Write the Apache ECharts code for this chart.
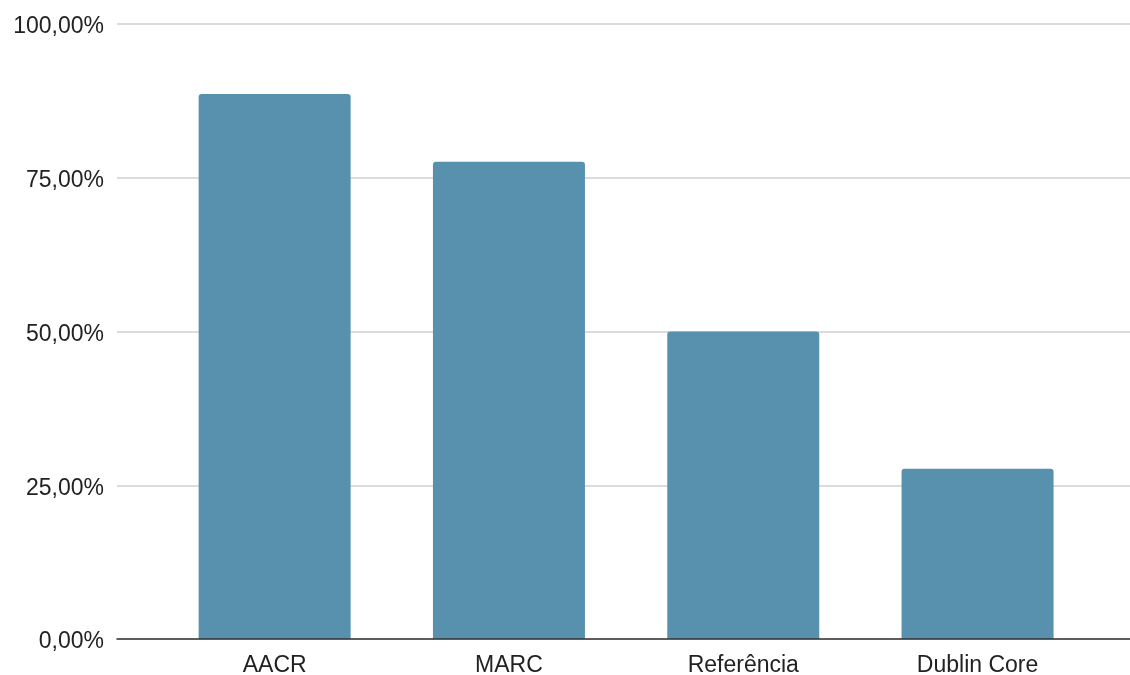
<!DOCTYPE html>
<html>
<head>
<meta charset="utf-8">
<script src="https://cdn.jsdelivr.net/npm/echarts@6/dist/echarts.min.js"></script>
<style>
  html, body { margin: 0; padding: 0; background: #ffffff; overflow: hidden; }
  #chart { width: 1130px; height: 675px; }
</style>
</head>
<body>
<div id="chart"></div>
<script>
// Percentage of records by cataloguing standard
const categories = ['AACR', 'MARC', 'Referência', 'Dublin Core'];
const percentages = [88.6, 77.6, 50.0, 27.7];
const yTicks = [0, 25, 50, 75, 100];

const FONT = 'Liberation Sans, Arial, sans-serif';
const BAR_COLOR = '#5891ad';

function pct(v) {
  return '{v|' + v.toFixed(2).replace('.', ',') + '%}';
}

const chart = echarts.init(document.getElementById('chart'), null, { renderer: 'canvas' });

chart.setOption({
  animation: false,
  backgroundColor: '#ffffff',
  grid: [
    // full-width frame: gridlines, y labels and baseline
    { left: 117, right: 0, top: 24, bottom: 36, containLabel: false, outerBoundsMode: 'none' },
    // plotting band for the bars
    { left: 157.5, right: 35.3, top: 24, bottom: 36, containLabel: false, outerBoundsMode: 'none' }
  ],
  xAxis: [
    {
      gridIndex: 0,
      type: 'category',
      data: [''],
      axisLine: { show: true, lineStyle: { color: '#333333', width: 1.5 } },
      axisTick: { show: false },
      axisLabel: { show: false },
      splitLine: { show: false },
      z: 6
    },
    {
      gridIndex: 1,
      type: 'category',
      data: categories,
      axisLine: { show: false },
      axisTick: { show: false },
      axisLabel: {
        color: '#222222',
        fontFamily: FONT,
        fontSize: 23,
        margin: 15
      },
      z: 5
    }
  ],
  yAxis: [
    {
      gridIndex: 0,
      type: 'value',
      min: yTicks[0],
      max: yTicks[yTicks.length - 1],
      interval: yTicks[1] - yTicks[0],
      axisLine: { show: false },
      axisTick: { show: false },
      axisLabel: {
        color: '#222222',
        fontFamily: FONT,
        fontSize: 23,
        margin: 13,
        formatter: pct,
        rich: {
          v: {
            color: '#222222',
            fontFamily: FONT,
            fontSize: 23,
            padding: [6, 0, 0, 0]
          }
        }
      },
      splitLine: { show: true, lineStyle: { color: '#d0d0d0', width: 1.5 } }
    },
    {
      gridIndex: 1,
      type: 'value',
      min: yTicks[0],
      max: yTicks[yTicks.length - 1],
      interval: yTicks[1] - yTicks[0],
      show: false
    }
  ],
  series: [
    {
      type: 'bar',
      xAxisIndex: 1,
      yAxisIndex: 1,
      data: percentages,
      barWidth: 152,
      itemStyle: {
        color: BAR_COLOR,
        borderWidth: 0,
        borderRadius: [3, 3, 0, 0]
      },
      z: 3
    }
  ]
});
</script>
</body>
</html>
